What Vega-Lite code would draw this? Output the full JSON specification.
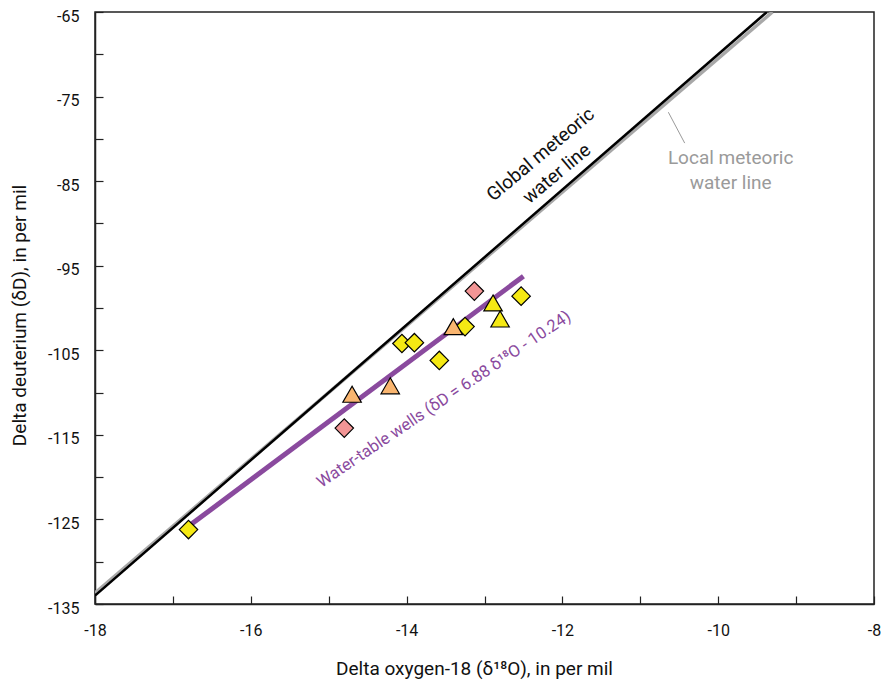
{
  "$schema": "https://vega.github.io/schema/vega-lite/v6.json",
  "width": 779,
  "height": 592,
  "autosize": {"type": "none"},
  "padding": {"left": 95, "top": 12, "right": 7, "bottom": 82},
  "background": "white",
  "config": {
    "font": "Roboto",
    "view": {"stroke": "#222222", "strokeWidth": 1.5},
    "axis": {
      "grid": false,
      "domainColor": "#222222",
      "domainWidth": 1.5,
      "tickColor": "#222222",
      "tickWidth": 1.2,
      "tickSize": -8,
      "labelColor": "#111111",
      "titleColor": "#111111",
      "labelFont": "Roboto",
      "titleFont": "Roboto",
      "labelFontSize": 16,
      "titleFontSize": 19,
      "titleFontWeight": "normal"
    }
  },
  "datasets": {
    "samples": [
      {"d18O": -16.8, "dD": -126.2, "group": "yellow", "kind": "diamond"},
      {"d18O": -14.06, "dD": -104.2, "group": "yellow", "kind": "diamond"},
      {"d18O": -13.9, "dD": -104.1, "group": "yellow", "kind": "diamond"},
      {"d18O": -13.58, "dD": -106.2, "group": "yellow", "kind": "diamond"},
      {"d18O": -13.25, "dD": -102.2, "group": "yellow", "kind": "diamond"},
      {"d18O": -12.53, "dD": -98.6, "group": "yellow", "kind": "diamond"},
      {"d18O": -12.89, "dD": -99.4, "group": "yellow", "kind": "triangle-up"},
      {"d18O": -12.8, "dD": -101.3, "group": "yellow", "kind": "triangle-up"},
      {"d18O": -13.4, "dD": -102.2, "group": "orange", "kind": "triangle-up"},
      {"d18O": -14.21, "dD": -109.2, "group": "orange", "kind": "triangle-up"},
      {"d18O": -14.7, "dD": -110.2, "group": "orange", "kind": "triangle-up"},
      {"d18O": -13.13, "dD": -98.0, "group": "pink", "kind": "diamond"},
      {"d18O": -14.8, "dD": -114.2, "group": "pink", "kind": "diamond"}
    ],
    "lines": [
      {"line": "Local meteoric water line", "d18O": -18, "dD": -133.7},
      {"line": "Local meteoric water line", "d18O": -9.304, "dD": -65},
      {"line": "Global meteoric water line", "d18O": -18, "dD": -134},
      {"line": "Global meteoric water line", "d18O": -9.375, "dD": -65},
      {"line": "Water-table wells", "d18O": -16.8, "dD": -125.82},
      {"line": "Water-table wells", "d18O": -12.5, "dD": -96.24}
    ],
    "leader": [
      {"x1": -10.64, "y1": -76.85, "x2": -10.43, "y2": -80.5}
    ],
    "labels": [
      {"text": "Global meteoric\nwater line", "d18O": -12.28, "dD": -81.85, "angle": -40, "color": "#111111", "size": 19},
      {"text": "Local meteoric\nwater line", "d18O": -9.84, "dD": -82.3, "angle": 0, "color": "#9a9a9a", "size": 19},
      {"text": "Water-table wells (δD = 6.88 δ¹⁸O - 10.24)", "d18O": -13.52, "dD": -110.8, "angle": -34, "color": "#8a4a9e", "size": 16.5}
    ]
  },
  "encoding": {
    "x": {
      "field": "d18O",
      "type": "quantitative",
      "scale": {"domain": [-18, -8], "nice": false, "zero": false},
      "axis": {
        "title": "Delta oxygen-18 (δ¹⁸O), in per mil",
        "values": [-18, -17, -16, -15, -14, -13, -12, -11, -10, -9, -8],
        "labelExpr": "datum.value % 2 === 0 ? '' + datum.value : ''",
        "labelPadding": 26,
        "labelFlush": false,
        "titleX": 379,
        "titleY": 64,
        "titleAlign": "center",
        "titleBaseline": "middle"
      }
    },
    "y": {
      "field": "dD",
      "type": "quantitative",
      "scale": {"domain": [-135, -65], "nice": false, "zero": false},
      "axis": {
        "title": "Delta deuterium (δD), in per mil",
        "values": [-135, -130, -125, -120, -115, -110, -105, -100, -95, -90, -85, -80, -75, -70, -65],
        "labelExpr": "(datum.value + 65) % 10 === 0 ? '' + datum.value : ''",
        "labelPadding": 24,
        "labelOffset": 4,
        "labelFlush": false,
        "titleX": -76,
        "titleY": 303,
        "titleAngle": -90,
        "titleAlign": "center",
        "titleBaseline": "middle"
      }
    }
  },
  "layer": [
    {
      "data": {"name": "lines"},
      "transform": [{"filter": "datum.line === 'Local meteoric water line'"}],
      "mark": {"type": "line", "color": "#a8a8a8", "strokeWidth": 3.5, "clip": true},
      "encoding": {"detail": {"field": "line"}}
    },
    {
      "data": {"name": "lines"},
      "transform": [{"filter": "datum.line === 'Global meteoric water line'"}],
      "mark": {"type": "line", "color": "#000000", "strokeWidth": 2.5, "clip": true},
      "encoding": {"detail": {"field": "line"}}
    },
    {
      "data": {"name": "lines"},
      "transform": [{"filter": "datum.line === 'Water-table wells'"}],
      "mark": {"type": "line", "color": "#8a4a9e", "strokeWidth": 5},
      "encoding": {"detail": {"field": "line"}}
    },
    {
      "data": {"name": "leader"},
      "mark": {"type": "rule", "color": "#9a9a9a", "strokeWidth": 1},
      "encoding": {
        "x": {"field": "x1", "type": "quantitative"},
        "y": {"field": "y1", "type": "quantitative"},
        "x2": {"field": "x2"},
        "y2": {"field": "y2"}
      }
    },
    {
      "data": {"name": "samples"},
      "mark": {"type": "point", "filled": true, "stroke": "#000000", "strokeWidth": 1.2, "opacity": 1, "size": 340},
      "encoding": {
        "shape": {
          "field": "kind",
          "type": "nominal",
          "scale": {"domain": ["diamond", "triangle-up"], "range": ["diamond", "triangle-up"]},
          "legend": null
        },
        "fill": {
          "field": "group",
          "type": "nominal",
          "scale": {"domain": ["yellow", "orange", "pink"], "range": ["#f5e914", "#f9b56f", "#f29595"]},
          "legend": null
        }
      }
    },
    {
      "data": {"name": "labels"},
      "mark": {"type": "text", "align": "center", "baseline": "middle", "lineBreak": "\n", "lineHeight": 25},
      "encoding": {
        "text": {"field": "text"},
        "angle": {"field": "angle", "type": "quantitative", "scale": null},
        "color": {"field": "color", "type": "nominal", "scale": null},
        "size": {"field": "size", "type": "quantitative", "scale": null}
      }
    }
  ]
}
